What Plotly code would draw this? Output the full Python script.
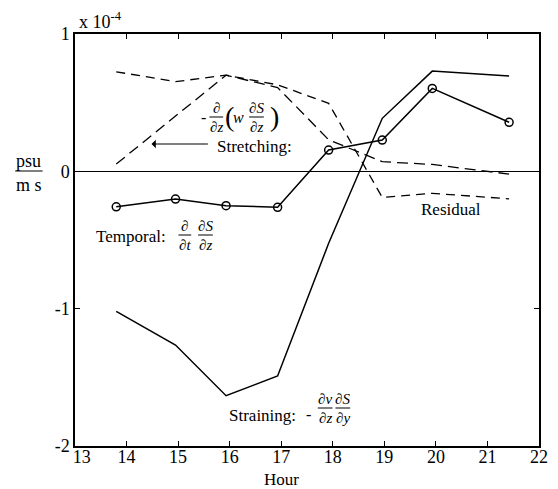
import plotly.graph_objects as go

# ---- data (values in units of 1e-4 psu/(m s)) ----
hours = [13.8, 14.95, 15.93, 16.93, 17.92, 18.96, 19.93, 21.42]
temporal = [-0.258, -0.202, -0.25, -0.262, 0.155, 0.228, 0.604, 0.357]
straining = [-1.02, -1.265, -1.634, -1.49, -0.524, 0.386, 0.73, 0.694]
stretching = [0.053, 0.40, 0.70, 0.61, 0.23, 0.07, 0.05, -0.02]
residual = [0.725, 0.653, 0.70, 0.63, 0.495, -0.19, -0.16, -0.20]

x_ticks = [13, 14, 15, 16, 17, 18, 19, 20, 21, 22]
x_tick_text = ["\u00a0\u00a0\u00a013", "14", "15", "16", "17", "18", "19", "20", "21", "22"]
y_ticks = [1, 0, -1, -2]
y_tick_text = ["1", "0", "-1", "-2"]

# ---- layout geometry (pixels) ----
W, H = 558, 489
L, R, T, B = 75, 548, 34, 446
XMIN, XMAX, YMIN, YMAX = 13, 22, -2, 1

def dx(px):
    return XMIN + (px - L) / (R - L) * (XMAX - XMIN)

def dy(py):
    return YMAX - (py - T) / (B - T) * (YMAX - YMIN)

def ppx(px):
    return (px - L) / (R - L)

def ppy(py):
    return (B - py) / (B - T)

FONT = "Liberation Serif"
BLACK = "black"

fig = go.Figure()
fig.add_trace(go.Scatter(x=hours, y=straining, mode="lines",
                         line=dict(color=BLACK, width=1.5), showlegend=False))
fig.add_trace(go.Scatter(x=hours, y=temporal, mode="lines+markers",
                         line=dict(color=BLACK, width=1.5),
                         marker=dict(symbol="circle-open", size=8, color=BLACK,
                                     line=dict(width=1.5)),
                         showlegend=False))
fig.add_trace(go.Scatter(x=hours, y=stretching, mode="lines",
                         line=dict(color=BLACK, width=1.3, dash="11px,6px"),
                         showlegend=False))
fig.add_trace(go.Scatter(x=hours, y=residual, mode="lines",
                         line=dict(color=BLACK, width=1.3, dash="9px,6px"),
                         showlegend=False))

annotations = []
shapes = []

def text_at(txt, px, py, size=17, paper=False, xanchor="center"):
    if paper:
        annotations.append(dict(text=txt, x=ppx(px), y=ppy(py), xref="paper", yref="paper",
                                xanchor=xanchor, yanchor="middle", showarrow=False,
                                font=dict(family=FONT, size=size, color=BLACK)))
    else:
        annotations.append(dict(text=txt, x=dx(px), y=dy(py), xref="x", yref="y",
                                xanchor=xanchor, yanchor="middle", showarrow=False,
                                font=dict(family=FONT, size=size, color=BLACK)))

def bar(x0, x1, py):
    shapes.append(dict(type="line", xref="paper", yref="paper",
                       x0=ppx(x0), x1=ppx(x1), y0=ppy(py), y1=ppy(py),
                       line=dict(color=BLACK, width=1)))

def frac(num, den, cx, cy, w, size=15, paper=False):
    text_at(num, cx, cy - 9, size=size, paper=paper)
    text_at(den, cx, cy + 10, size=size, paper=paper)
    bar(cx - w / 2, cx + w / 2, cy)

# stretching formula
text_at("-", 206, 117, size=16)
frac("∂", "∂<i>z</i>", 219, 117, 14)
text_at("(", 232, 116, size=28)
text_at("<i>w</i>", 242, 117, size=16)
frac("∂<i>S</i>", "∂<i>z</i>", 260, 117, 15)
text_at(")", 278, 116, size=28)
text_at("Stretching:", 258, 146, size=17)
annotations.append(dict(text="", x=dx(153), y=dy(144), xref="x", yref="y",
                        ax=dx(212), ay=dy(144), axref="x", ayref="y",
                        showarrow=True, arrowhead=1, arrowsize=1.2, arrowwidth=1.2,
                        arrowcolor=BLACK))

# temporal
text_at("Temporal:", 132, 236, size=17)
frac("∂", "∂<i>t</i>", 187, 235, 13)
frac("∂<i>S</i>", "∂<i>z</i>", 208, 235, 15)

# straining
text_at("Straining:", 266, 415, size=17)
text_at("-", 313, 414, size=16)
frac("∂<i>v</i>", "∂<i>z</i>", 330, 408, 15)
frac("∂<i>S</i>", "∂<i>y</i>", 348, 408, 15)

# residual
text_at("Residual", 458, 209, size=17)

# axis decorations outside the plot area
text_at("x 10<sup>-4</sup>", 77, 20, size=18, paper=True, xanchor="left")
text_at("psu", 28, 161, size=18, paper=True)
text_at("m s", 28, 185, size=18, paper=True)
bar(14, 42, 171)
text_at("Hour", 286, 479, size=17, paper=True)

fig.update_layout(
    width=W, height=H,
    margin=dict(l=L, r=W - R, t=T, b=H - B, pad=0),
    paper_bgcolor="white", plot_bgcolor="white",
    font=dict(family=FONT, size=18, color=BLACK),
    annotations=annotations, shapes=shapes,
    xaxis=dict(range=[XMIN, XMAX], tickvals=x_ticks, ticktext=x_tick_text,
               showgrid=False, zeroline=False, showline=True, linecolor=BLACK,
               linewidth=1.5, mirror="ticks", ticks="inside", ticklen=5,
               tickcolor=BLACK, tickwidth=1, tickfont=dict(family=FONT, size=18),
               ticklabelstandoff=-6),
    yaxis=dict(range=[YMIN, YMAX], tickvals=y_ticks, ticktext=y_tick_text,
               showgrid=False, zeroline=True, zerolinecolor=BLACK, zerolinewidth=1,
               showline=True, linecolor=BLACK, linewidth=1.5, mirror="ticks",
               ticks="inside", ticklen=5, tickcolor=BLACK, tickwidth=1,
               tickfont=dict(family=FONT, size=18)),
)

fig.write_html("out.html", config={"displayModeBar": False},
               post_script="document.body.style.margin='0px';")
